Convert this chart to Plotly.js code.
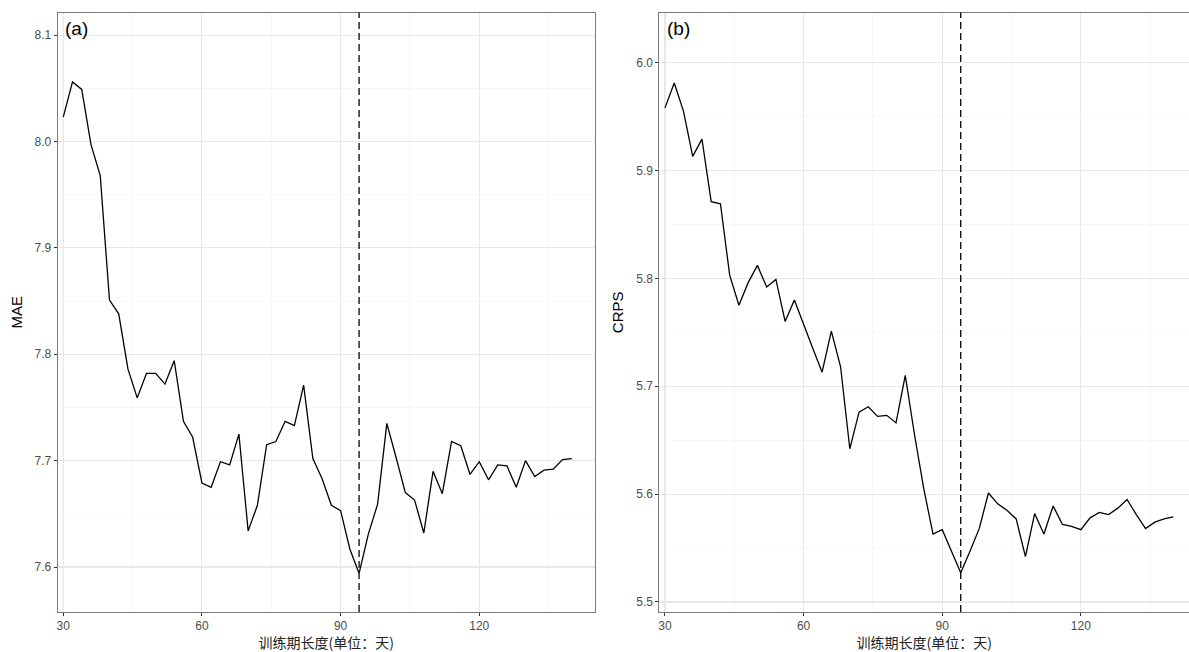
<!DOCTYPE html>
<html>
<head>
<meta charset="utf-8">
<script src="https://cdn.plot.ly/plotly-3.0.1.min.js"></script>
<style>html,body{margin:0;padding:0;background:#fff;}#chart{width:1189px;height:652px;}</style>
</head>
<body>
<div id="chart"></div>
<script>
// training period length (days)
const trainDays = [30,32,34,36,38,40,42,44,46,48,50,52,54,56,58,60,62,64,66,68,70,72,74,76,78,80,82,84,86,88,90,92,94,96,98,100,102,104,106,108,110,112,114,116,118,120,122,124,126,128,130,132,134,136,138,140];
const maeValues = [8.023,8.056,8.049,7.997,7.968,7.851,7.838,7.786,7.759,7.782,7.782,7.772,7.794,7.737,7.722,7.679,7.675,7.699,7.696,7.725,7.634,7.658,7.715,7.718,7.737,7.733,7.771,7.702,7.683,7.658,7.653,7.617,7.594,7.631,7.659,7.735,7.703,7.670,7.663,7.632,7.690,7.669,7.718,7.714,7.687,7.699,7.682,7.696,7.695,7.675,7.700,7.685,7.691,7.692,7.701,7.702];
const crpsValues = [5.958,5.981,5.955,5.913,5.929,5.871,5.869,5.803,5.775,5.796,5.812,5.792,5.799,5.760,5.780,5.757,5.735,5.713,5.751,5.718,5.642,5.676,5.681,5.672,5.673,5.666,5.710,5.655,5.605,5.563,5.567,5.547,5.527,5.547,5.568,5.601,5.591,5.585,5.577,5.542,5.582,5.563,5.589,5.572,5.570,5.567,5.578,5.583,5.581,5.587,5.595,5.581,5.568,5.574,5.577,5.579];
const optimalDay = [94];
const xTickVals = [30,60,90,120];
const maeTicks = [7.6,7.7,7.8,7.9,8.0,8.1];
const crpsTicks = [5.5,5.6,5.7,5.8,5.9,6.0];
const panelLabels = ['(a)','(b)'];
const yTitles = ['MAE','CRPS'];
const xTitle = '训练期长度(单位：天)';

const font = 'Liberation Sans, Arial, sans-serif';
const cjk = 'Noto Sans CJK SC, sans-serif';

const traces = [
  {x: trainDays, y: maeValues, type: 'scatter', mode: 'lines', line: {color: '#000', width: 1.3}, xaxis: 'x', yaxis: 'y', hoverinfo: 'x+y'},
  {x: trainDays, y: crpsValues, type: 'scatter', mode: 'lines', line: {color: '#000', width: 1.3}, xaxis: 'x2', yaxis: 'y2', hoverinfo: 'x+y'}
];

function xAxis(domain, range, anchor) {
  return {
    domain: domain, range: range, anchor: anchor,
    tickvals: xTickVals, ticktext: xTickVals.map(String),
    ticks: 'outside', ticklen: 3, tickcolor: '#333', tickwidth: 1,
    tickfont: {family: font, size: 12, color: '#4d4d4d'},
    showgrid: true, gridcolor: '#e8e8e8', gridwidth: 1.1,
    minor: {tickvals: [45,75,105,135], showgrid: true, gridcolor: '#f2f2f2', gridwidth: 0.6, ticks: ''},
    zeroline: false, showline: true, mirror: true, linecolor: '#7a7a7a', linewidth: 1,
    title: {text: xTitle, font: {family: cjk, size: 14, color: '#222'}, standoff: 7}
  };
}
function yAxis(domain, range, anchor, ticks, title) {
  const minors = [];
  for (let i = 0; i < ticks.length - 1; i++) minors.push(+((ticks[i] + ticks[i+1]) / 2).toFixed(3));
  minors.push(+(ticks[0] - 0.05).toFixed(3));
  return {
    domain: domain, range: range, anchor: anchor,
    tickvals: ticks, ticktext: ticks.map(v => v.toFixed(1)),
    ticks: 'outside', ticklen: 3, tickcolor: '#333', tickwidth: 1,
    tickfont: {family: font, size: 12, color: '#4d4d4d'},
    showgrid: true, gridcolor: '#e8e8e8', gridwidth: 1.1,
    minor: {tickvals: minors, showgrid: true, gridcolor: '#f2f2f2', gridwidth: 0.6, ticks: ''},
    zeroline: false, showline: true, mirror: true, linecolor: '#7a7a7a', linewidth: 1,
    title: {text: title, font: {family: font, size: 15, color: '#000'}, standoff: 8}
  };
}

const layout = {
  width: 1189, height: 652,
  margin: {l: 0, r: 0, t: 0, b: 0},
  paper_bgcolor: '#fff', plot_bgcolor: '#fff',
  showlegend: false,
  xaxis: xAxis([0.0485, 0.5004], [28.79, 145.03], 'y'),
  yaxis: yAxis([0.0613, 0.9807], [7.5577, 8.1212], 'x', maeTicks, yTitles[0]),
  xaxis2: xAxis([0.5545, 1.0], [28.77, 143.4], 'y2'),
  yaxis2: yAxis([0.0613, 0.9807], [5.4907, 6.0463], 'x2', crpsTicks, yTitles[1]),
  shapes: [
    {type: 'line', xref: 'x', yref: 'y domain', x0: optimalDay[0], x1: optimalDay[0], y0: 0, y1: 1, line: {color: '#333', width: 1.6, dash: '7px,4px'}},
    {type: 'line', xref: 'x2', yref: 'y2 domain', x0: optimalDay[0], x1: optimalDay[0], y0: 0, y1: 1, line: {color: '#111', width: 1.4, dash: '7px,4px'}}
  ],
  annotations: [
    {text: panelLabels[0], xref: 'x domain', yref: 'y domain', x: 0.01, y: 0.995, xanchor: 'left', yanchor: 'top', showarrow: false, font: {family: font, size: 19, color: '#000'}},
    {text: panelLabels[1], xref: 'x2 domain', yref: 'y2 domain', x: 0.01, y: 0.995, xanchor: 'left', yanchor: 'top', showarrow: false, font: {family: font, size: 19, color: '#000'}}
  ]
};

Plotly.newPlot('chart', traces, layout, {displayModeBar: false, staticPlot: true});
</script>
</body>
</html>
